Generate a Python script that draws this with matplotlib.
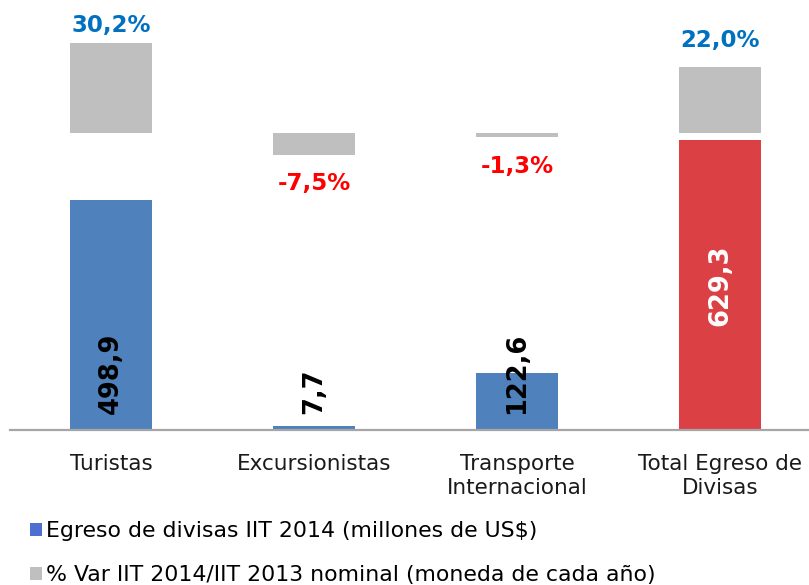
import numpy as np
import matplotlib
matplotlib.use("Agg")
import matplotlib.pyplot as plt
from matplotlib.patches import Patch

categories = ["Turistas", "Excursionistas", "Transporte\nInternacional",
              "Total Egreso de\nDivisas"]
egreso = [498.9, 7.7, 122.6, 629.3]
var_pct = [30.2, -7.5, -1.3, 22.0]
egreso_labels = ["498,9", "7,7", "122,6", "629,3"]
var_labels = ["30,2%", "-7,5%", "-1,3%", "22,0%"]

BLUE = "#4F81BD"
RED = "#DB4045"
GRAY = "#BFBFBF"

plt.rcParams.update({
    "font.family": "DejaVu Sans",
    "figure.facecolor": "white",
})

fig = plt.figure(figsize=(8.09, 5.85), dpi=100)
ax = fig.add_axes([10 / 809, 155 / 585, 799 / 809, 430 / 585])
ax2 = ax.twinx()

x = np.arange(len(categories))
bar_colors = [BLUE, BLUE, BLUE, RED]
ax.bar(x, egreso, width=0.4, color=bar_colors, zorder=2)
ax2.bar(x, var_pct, width=0.4, color=GRAY, zorder=2)

ax.set_xlim(-0.4975, 3.438)
ax.set_ylim(0, 430 / 0.461)
ax2.set_ylim(-297 / 2.98, 133 / 2.98)

for a in (ax, ax2):
    for s in ("top", "left", "right"):
        a.spines[s].set_visible(False)
    a.set_yticks([])
ax2.spines["bottom"].set_visible(False)
ax.spines["bottom"].set_color("#A6A6A6")
ax.spines["bottom"].set_linewidth(1.6)

ax.set_xticks(x)
ax.set_xticklabels(categories, fontsize=15.5, color="#1A1A1A", linespacing=1.3)
ax.tick_params(axis="x", length=0, pad=17)

# value labels (rotated)
for i, (v, lab) in enumerate(zip(egreso, egreso_labels)):
    if i == 3:
        ax.text(i, v / 2, lab, rotation=90, ha="center", va="center",
                fontsize=18.5, fontweight="bold", color="white", zorder=3)
    else:
        ax.text(i, 34, lab, rotation=90, ha="center", va="bottom",
                fontsize=18.5, fontweight="bold", color="black", zorder=3)

# percent labels
gaps = [6, 17, 18, 15]
for i, (v, lab) in enumerate(zip(var_pct, var_labels)):
    if v >= 0:
        ax2.annotate(lab, (i, v), xytext=(0, gaps[i] * 0.72), textcoords="offset points",
                     ha="center", va="bottom", fontsize=16.5, fontweight="bold",
                     color="#0070C0")
    else:
        ax2.annotate(lab, (i, v), xytext=(0, -gaps[i] * 0.72), textcoords="offset points",
                     ha="center", va="top", fontsize=16.5, fontweight="bold",
                     color="#FF0000")

handles = [Patch(facecolor="#4E6FD1", edgecolor="none"),
           Patch(facecolor=GRAY, edgecolor="none")]
fig.legend(handles,
           ["Egreso de divisas IIT 2014 (millones de US$)",
            "% Var IIT 2014/IIT 2013 nominal (moneda de cada año)"],
           loc="upper left", bbox_to_anchor=(30 / 809, 1 - 521 / 585),
           frameon=False, fontsize=15.8, handlelength=0.55, handleheight=0.55,
           handletextpad=0.2, labelspacing=1.1, borderpad=0, borderaxespad=0)

fig.savefig("out.png", dpi=100)
